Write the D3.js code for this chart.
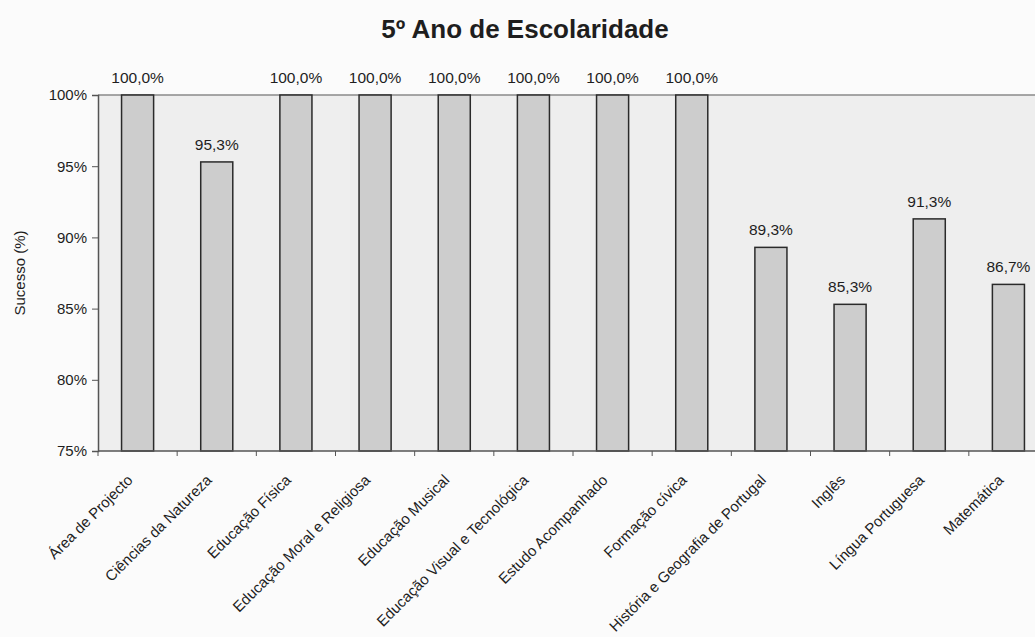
<!DOCTYPE html>
<html>
<head>
<meta charset="utf-8">
<script src="https://cdn.jsdelivr.net/npm/d3@7"></script>
<style>
  body { margin: 0; background: #fbfbfb; }
  svg text { font-family: "Liberation Sans", Arial, sans-serif; fill: #1e1e1e; }
</style>
</head>
<body>
<div id="chart"></div>
<script>
const categories = [
  "Área de Projecto", "Ciências da Natureza", "Educação Física",
  "Educação Moral e Religiosa", "Educação Musical", "Educação Visual e Tecnológica",
  "Estudo Acompanhado", "Formação cívica", "História e Geografia de Portugal",
  "Inglês", "Língua Portuguesa", "Matemática"
];
const sucesso = [100.0, 95.3, 100.0, 100.0, 100.0, 100.0, 100.0, 100.0, 89.3, 85.3, 91.3, 86.7];
const yTicks = [75, 80, 85, 90, 95, 100];

const width = 1035, height = 637;
const margin = { top: 95, left: 98, bottom: 186 };
const plotW = 950; // plot runs past the right edge, as in the scan
const plotH = height - margin.top - margin.bottom;

const svg = d3.select('#chart').append('svg')
  .attr('width', width)
  .attr('height', height);

const x = d3.scaleBand()
  .domain(categories)
  .range([0, plotW])
  .paddingInner(0.595)
  .paddingOuter(0.2975);

const y = d3.scaleLinear()
  .domain([75, 100])
  .range([plotH, 0]);

const g = svg.append('g')
  .attr('transform', 'translate(' + margin.left + ',' + margin.top + ')');

g.append('rect')
  .attr('width', plotW)
  .attr('height', plotH)
  .style('fill', '#eeeeee');

g.append('line')
  .attr('x2', plotW)
  .attr('y1', y(100)).attr('y2', y(100))
  .style('stroke', '#8a8a8a')
  .style('stroke-width', 1.5);

g.selectAll('rect.bar')
  .data(sucesso)
  .enter()
  .append('rect')
  .attr('class', 'bar')
  .attr('x', (d, i) => x(categories[i]))
  .attr('y', d => y(d))
  .attr('width', x.bandwidth())
  .attr('height', d => plotH - y(d))
  .style('fill', '#cdcdcd')
  .style('stroke', '#2a2a2a')
  .style('stroke-width', 1.5);

g.selectAll('text.val')
  .data(sucesso)
  .enter()
  .append('text')
  .attr('class', 'val')
  .attr('x', (d, i) => x(categories[i]) + x.bandwidth() / 2)
  .attr('y', d => y(d) - 12)
  .attr('text-anchor', 'middle')
  .style('font-size', '15.5px')
  .text(d => d.toFixed(1).replace('.', ',') + '%');

// y axis
const yAxis = g.append('g')
  .call(d3.axisLeft(y).tickValues(yTicks).tickSize(6).tickFormat(d => d + '%'));
yAxis.select('.domain').style('stroke', '#555').style('stroke-width', 1.5);
yAxis.selectAll('.tick line').style('stroke', '#555');
yAxis.selectAll('.tick text')
  .attr('x', -11)
  .style('font-size', '15px')
  .style('font-family', '"Liberation Sans", Arial, sans-serif')
  .style('fill', '#1e1e1e');

// x axis: ticks sit on band boundaries
const bounds = categories.map(c => x(c) - x.step() * x.paddingInner() / 2).concat([plotW]);
g.append('line')
  .attr('x2', plotW)
  .attr('y1', plotH).attr('y2', plotH)
  .style('stroke', '#555')
  .style('stroke-width', 1.5);
g.selectAll('line.xt')
  .data(bounds)
  .enter()
  .append('line')
  .attr('class', 'xt')
  .attr('x1', d => d).attr('x2', d => d)
  .attr('y1', plotH).attr('y2', plotH + 5)
  .style('stroke', '#555');

g.selectAll('text.cat')
  .data(categories)
  .enter()
  .append('text')
  .attr('class', 'cat')
  .attr('text-anchor', 'end')
  .attr('transform', d => 'translate(' + (x(d) + x.bandwidth() / 2 - 4) + ',' + (plotH + 30) + ') rotate(-45)')
  .style('font-size', '15px')
  .text(d => d);

svg.append('text')
  .attr('x', 525)
  .attr('y', 38)
  .attr('text-anchor', 'middle')
  .style('font-size', '26px')
  .style('font-weight', 'bold')
  .text('5º Ano de Escolaridade');

svg.append('text')
  .attr('transform', 'translate(25,' + (margin.top + plotH / 2) + ') rotate(-90)')
  .attr('text-anchor', 'middle')
  .style('font-size', '15px')
  .text('Sucesso (%)');
</script>
</body>
</html>
